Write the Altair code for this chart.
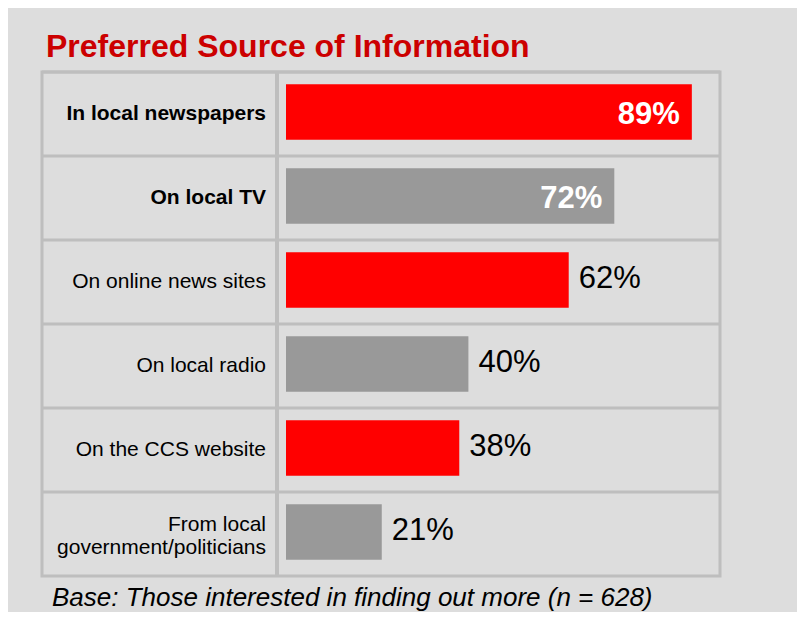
import altair as alt
import pandas as pd

sources = [
    "In local newspapers",
    "On local TV",
    "On online news sites",
    "On local radio",
    "On the CCS website",
    "From local\ngovernment/politicians",
]
percent = [89, 72, 62, 40, 38, 21]

df = pd.DataFrame({"source": sources, "pct": percent})

W, H = 678, 504
FONT = "Liberation Sans"

base = alt.Chart(df).transform_window(
    idx="row_number()"
).transform_calculate(
    label="datum.pct + '%'"
)

y_enc = alt.Y("source:N", sort=sources, axis=None,
              scale=alt.Scale(paddingInner=0, paddingOuter=0))
x_scale = alt.Scale(domain=[0, 100], range=[244, 700])

bars = base.mark_bar(height=alt.RelativeBandSize(0.66), yOffset=-2).encode(
    y=y_enc,
    x=alt.X("pct:Q", scale=x_scale, axis=None),
    color=alt.condition("datum.idx % 2 == 1", alt.value("#ff0000"), alt.value("#999999")),
)

row_lines = base.mark_rule(color="#bebebe", strokeWidth=3).encode(
    y=alt.Y("source:N", sort=sources, axis=None, bandPosition=0,
            scale=alt.Scale(paddingInner=0, paddingOuter=0)),
    x=alt.value(0),
    x2=alt.value(W),
)

divider = base.mark_rule(color="#bebebe", strokeWidth=3).encode(
    x=alt.value(235), y=alt.value(0), y2=alt.value(H)
)

cat_bold = base.transform_filter("datum.pct >= 70").mark_text(
    align="right", baseline="middle", fontSize=21, font=FONT,
    color="black", fontWeight="bold",
).encode(
    y=y_enc,
    x=alt.value(224),
    text="source:N",
)

cat_norm = base.transform_filter(
    "datum.pct < 70 && indexof(datum.source, '\\n') < 0"
).mark_text(
    align="right", baseline="middle", fontSize=21, font=FONT,
    color="black",
).encode(
    y=y_enc,
    x=alt.value(224),
    text="source:N",
)

cat_multi = base.transform_filter(
    "indexof(datum.source, '\\n') >= 0"
).mark_text(
    align="right", baseline="middle", fontSize=21, font=FONT, lineBreak="\n",
    color="black", dy=-9,
).encode(
    y=y_enc,
    x=alt.value(224),
    text="source:N",
)

val_in = base.transform_filter("datum.pct >= 70").mark_text(
    align="right", baseline="middle", fontSize=31, font=FONT, fontWeight="bold",
    color="white", dx=-12, dy=1,
).encode(
    y=y_enc,
    x=alt.X("pct:Q", scale=x_scale, axis=None),
    text="label:N",
)

val_out = base.transform_filter("datum.pct < 70").mark_text(
    align="left", baseline="middle", fontSize=31, font=FONT,
    color="black", dx=10, dy=-3,
).encode(
    y=y_enc,
    x=alt.X("pct:Q", scale=x_scale, axis=None),
    text="label:N",
)

foot = alt.Chart(pd.DataFrame({"t": ["Base: Those interested in finding out more (n = 628)"]})).mark_text(
    align="left", baseline="alphabetic", fontSize=26, font=FONT, fontStyle="italic", color="black",
).encode(
    x=alt.value(10), y=alt.value(H + 30), text="t:N"
)

chart = alt.layer(bars, row_lines, divider, cat_bold, cat_norm, cat_multi, val_in, val_out, foot).properties(
    width=W,
    height=H,
    title=alt.TitleParams(
        "Preferred Source of Information", anchor="start", frame="group",
        fontSize=32, font=FONT, fontWeight="bold", color="#cc0000",
        baseline="alphabetic", offset=16, dx=4, dy=34,
    ),
    background="#dddddd",
    autosize=alt.AutoSizeParams(type="none"),
    padding={"left": 34, "top": 64, "right": 77, "bottom": 36},
).configure_view(
    stroke="#bebebe", strokeWidth=3
)

chart.save("out.html", embed_options={"renderer": "svg", "actions": False})
